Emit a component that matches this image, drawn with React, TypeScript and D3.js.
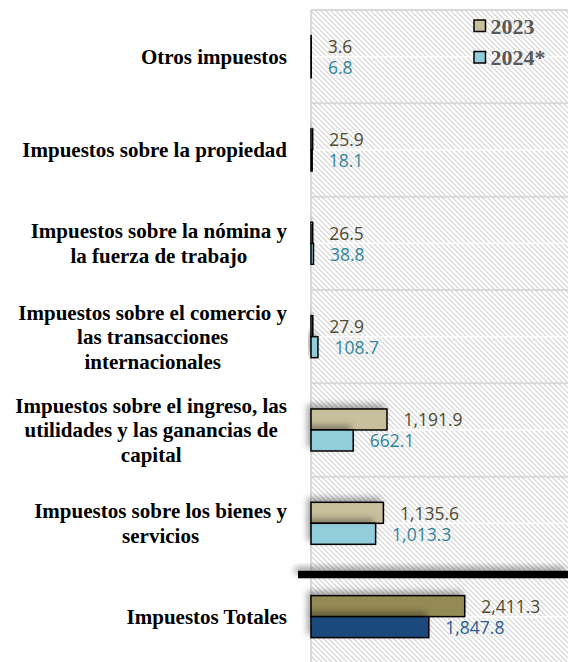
import React, { useEffect, useRef } from "react";
import * as d3 from "d3";

// category labels, already split in lines as in the original chart
const categories = [
  ["Otros impuestos"],
  ["Impuestos sobre la propiedad"],
  ["Impuestos sobre la nómina y", "la fuerza de trabajo"],
  ["Impuestos sobre el comercio y", "las transacciones", "internacionales"],
  ["Impuestos sobre el ingreso, las", "utilidades y las ganancias de", "capital"],
  ["Impuestos sobre los bienes y", "servicios"],
  ["Impuestos Totales"],
];
const series = ["2023", "2024*"];
const values2023 = [3.6, 25.9, 26.5, 27.9, 1191.9, 1135.6, 2411.3];
const values2024 = [6.8, 18.1, 38.8, 108.7, 662.1, 1013.3, 1847.8];

const W = 568;
const H = 662;

const App = () => {
  const svgRef = useRef<SVGSVGElement>(null);

  useEffect(() => {
    const svg = d3.select(svgRef.current);
    svg.selectAll("*").remove();

    const left = 311;
    const top = 10;
    const keys = categories.map((c) => c.join(" "));

    const x = d3.scaleLinear().domain([0, 4000]).range([left, 566]);
    const y = d3.scaleBand().domain(keys).range([top, 663.3]).padding(0);
    const inner = d3.scaleBand().domain(series).range([-21, 21]);

    const defs = svg.append("defs");
    const pat = defs
      .append("pattern")
      .attr("id", "hatch")
      .attr("patternUnits", "userSpaceOnUse")
      .attr("width", 5)
      .attr("height", 5);
    pat.append("rect").attr("width", 5).attr("height", 5).attr("fill", "#ffffff");
    pat
      .append("path")
      .attr("d", "M0,0 L5,5 M-1,4 L1,6 M4,-1 L6,1")
      .attr("stroke", "#d2d2d2")
      .attr("stroke-width", 1.1);

    const shadow = defs
      .append("filter")
      .attr("id", "shadow")
      .attr("x", "-30%")
      .attr("y", "-100%")
      .attr("width", "160%")
      .attr("height", "300%");
    shadow
      .append("feDropShadow")
      .attr("dx", -3)
      .attr("dy", -4)
      .attr("stdDeviation", 3)
      .attr("flood-color", "#000")
      .attr("flood-opacity", 0.35);

    // plot background
    svg
      .append("rect")
      .attr("x", left)
      .attr("y", top)
      .attr("width", W - left)
      .attr("height", H - top)
      .attr("fill", "url(#hatch)");

    // band separators + faint white center line
    keys.forEach((k, i) => {
      const y0 = y(k)!;
      if (i < keys.length - 1) {
        svg
          .append("line")
          .attr("x1", left)
          .attr("x2", W)
          .attr("y1", y0)
          .attr("y2", y0)
          .attr("stroke", "#d9d9d9")
          .attr("stroke-width", 2);
      }
      svg
        .append("line")
        .attr("x1", left)
        .attr("x2", W)
        .attr("y1", y0 + y.bandwidth() / 2)
        .attr("y2", y0 + y.bandwidth() / 2)
        .attr("stroke", "#ffffff")
        .attr("stroke-opacity", 0.9)
        .attr("stroke-width", 1.5);
    });

    svg
      .append("line")
      .attr("x1", left)
      .attr("x2", left)
      .attr("y1", top)
      .attr("y2", H)
      .attr("stroke", "#d9d9d9")
      .attr("stroke-width", 2);

    // thick separator above the total
    const last = keys[keys.length - 1];
    svg
      .append("rect")
      .attr("x", 298)
      .attr("y", y(last)! + 0.8)
      .attr("width", W - 298)
      .attr("height", 7.5)
      .attr("fill", "#000")
      .attr("filter", "url(#shadow)");

    const fills = (i: number) =>
      i === keys.length - 1 ? ["#948a54", "#1f497d"] : ["#c8c09c", "#92cddc"];
    const labelColors = (i: number) =>
      i === keys.length - 1 ? ["#4f4a33", "#2a5b93"] : ["#4f4a33", "#31859c"];
    const fmt = d3.format(",.1f");

    keys.forEach((k, i) => {
      const cy = y(k)! + y.bandwidth() / 2;
      [values2023[i], values2024[i]].forEach((v, s) => {
        const by = cy + inner(series[s])!;
        svg
          .append("rect")
          .attr("x", x(0))
          .attr("y", by)
          .attr("width", x(v) - x(0))
          .attr("height", inner.bandwidth())
          .attr("fill", fills(i)[s])
          .attr("stroke", "#000")
          .attr("stroke-width", 1.5)
          .attr("filter", "url(#shadow)");
        svg
          .append("text")
          .attr("x", x(v) + 16.5)
          .attr("y", by + inner.bandwidth() / 2)
          .attr("dominant-baseline", "central")
          .attr("font-family", "'Open Sans', sans-serif")
          .attr("font-size", 17.5)
          .attr("fill", labelColors(i)[s])
          .text(fmt(v));
      });

      // category label: block right aligned, lines centered inside it
      const lines = categories[i];
      const g = svg
        .append("text")
        .attr("font-family", "'Liberation Serif', 'Times New Roman', serif")
        .attr("font-weight", "bold")
        .attr("font-size", 21)
        .attr("fill", "#000")
        .attr("text-anchor", "middle");
      const lh = 24.5;
      const tspans = lines.map((ln, j) =>
        g
          .append("tspan")
          .attr("y", cy + (j - (lines.length - 1) / 2) * lh)
          .attr("dy", "0.35em")
          .text(ln)
      );
      const maxW = d3.max(tspans, (t) => (t.node() as SVGTSpanElement).getComputedTextLength()) || 0;
      tspans.forEach((t) => t.attr("x", 287 - maxW / 2));
    });

    // legend
    const legend = svg.append("g").attr("transform", "translate(474, 20)");
    series.forEach((s, i) => {
      legend
        .append("rect")
        .attr("x", 0)
        .attr("y", i * 31.5)
        .attr("width", 11.5)
        .attr("height", 11.5)
        .attr("fill", fills(0)[i])
        .attr("stroke", "#000")
        .attr("stroke-width", 1.5);
      legend
        .append("text")
        .attr("x", 16.5)
        .attr("y", i * 31.5 + 6)
        .attr("dy", "0.35em")
        .attr("font-family", "'Liberation Serif', 'Times New Roman', serif")
        .attr("font-weight", "bold")
        .attr("font-size", 22)
        .attr("fill", "#595959")
        .text(s);
    });
  }, []);

  return (
    <svg
      ref={svgRef}
      width={W}
      height={H}
      style={{ position: "absolute", left: 0, top: 0, background: "#fff" }}
    ></svg>
  );
};

export default App;
